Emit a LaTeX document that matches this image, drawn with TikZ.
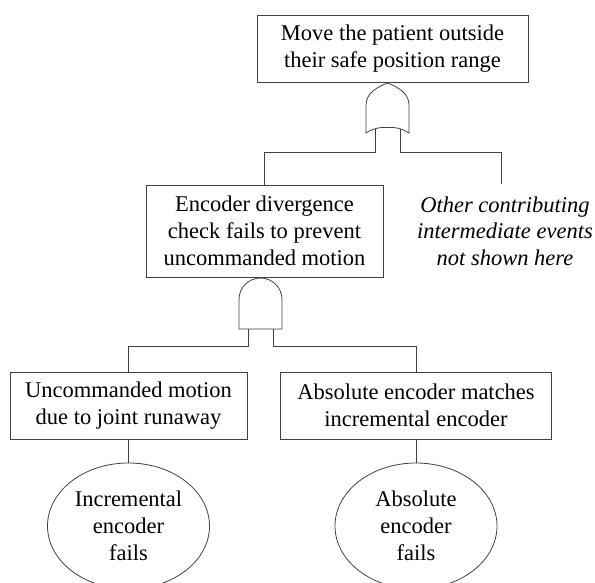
\documentclass[tikz,border=0pt]{standalone}
\usepackage{fontspec}
\setmainfont{Liberation Serif}
\usetikzlibrary{shapes.geometric, calc}
\tikzset{wire/.style={line width=0.8pt, black!75}}

\begin{document}
\begin{tikzpicture}[x=1pt, y=-1pt, font=\fontsize{22.5}{27}\selectfont,
        event/.style={draw=black!75, line width=0.8pt, inner sep=0pt, align=center},
        basic/.style={event, ellipse, minimum width=162pt, minimum height=126pt}]
    \useasboundingbox (0,0) rectangle (595,583);
    \node[event, minimum width=271pt, minimum height=67pt] (top) at (392.5,48.75) {Move the patient outside\\their safe position range};
    \node[event, minimum width=237pt, minimum height=92pt] (check) at (264.5,231) {Encoder divergence\\check fails to prevent\\uncommanded motion};
    \node[align=center, font=\fontsize{22.5}{26.5}\selectfont\itshape] (other) at (505,231) {Other contributing\\intermediate events\\not shown here};
    \coordinate (otherend) at (501,184);
    \node[event, minimum width=237pt, minimum height=67pt] (runaway) at (128.5,405.5) {Uncommanded motion\\due to joint runaway};
    \node[event, minimum width=271.5pt, minimum height=67pt] (match) at (416,405.5) {Absolute encoder matches\\incremental encoder};
    \node[basic] (incfail) at (128.5,526) {Incremental\\encoder\\fails};
    \node[basic] (absfail) at (416,526) {Absolute\\encoder\\fails};
    \coordinate (orgate) at (387.5,83);
    \coordinate (andgate) at (260.5,278);
    \begin{scope}[shift={(orgate)}]
        \draw[wire] (0,0) .. controls (-10,4) and (-21.5,10) .. (-21.5,22) -- (-21.5,50)
            .. controls (-14,45) and (-6,44) .. (0,44.5) .. controls (6,44) and (14,45) .. (21.5,50)
            -- (21.5,22) .. controls (21.5,10) and (10,4) .. (0,0) -- cycle;
    \end{scope}
    \begin{scope}[shift={(andgate)}]
        \draw[wire] (-21.5,51) -- (-21.5,21.5) .. controls (-21.5,9.6) and (-11.9,0) .. (0,0)
            .. controls (11.9,0) and (21.5,9.6) .. (21.5,21.5) -- (21.5,51) -- cycle;
    \end{scope}
    \coordinate (or-l) at ($(orgate)+(-12.5,46.5)$);
    \coordinate (or-r) at ($(orgate)+(12.5,46.5)$);
    \coordinate (and-l) at ($(andgate)+(-12.5,51)$);
    \coordinate (and-r) at ($(andgate)+(12.5,51)$);
    \draw[wire] (or-l) -- ++(0,22.5) -| (check.north);
    \draw[wire] (or-r) -- ++(0,22.5) -| (otherend);
    \draw[wire] (and-l) -- ++(0,17) -| (runaway.north);
    \draw[wire] (and-r) -- ++(0,17) -| (match.north);
    \draw[wire] (runaway) -- (incfail);
    \draw[wire] (match) -- (absfail);
\end{tikzpicture}
\end{document}
